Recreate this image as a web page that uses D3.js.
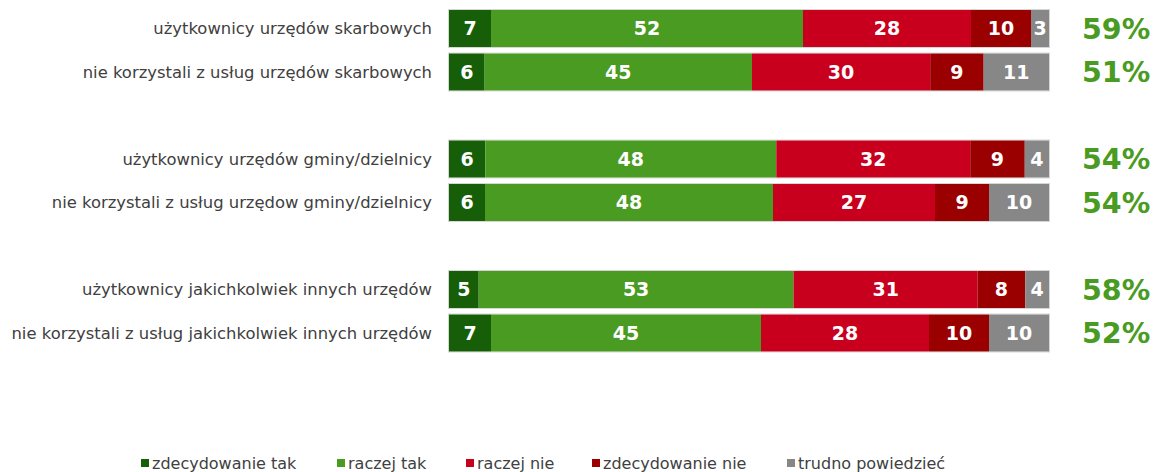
<!DOCTYPE html>
<html>
<head>
<meta charset="utf-8">
<script src="https://cdn.jsdelivr.net/npm/d3@7/dist/d3.min.js"></script>
<style>
  html, body { margin: 0; padding: 0; background: #fff; }
  svg { display: block; }
</style>
</head>
<body>
<svg id="chart" width="1153" height="472"></svg>
<script>
// Row labels; empty strings are spacer rows between the groups
const categories = [
  "użytkownicy urzędów skarbowych",
  "nie korzystali z usług urzędów skarbowych",
  "",
  "użytkownicy urzędów gminy/dzielnicy",
  "nie korzystali z usług urzędow gminy/dzielnicy",
  "",
  "użytkownicy jakichkolwiek innych urzędów",
  "nie korzystali z usług jakichkolwiek innych urzędów"
];
const seriesNames = ["zdecydowanie tak", "raczej tak", "raczej nie", "zdecydowanie nie", "trudno powiedzieć"];
const zdecydowanieTak = [7, 6, null, 6, 6, null, 5, 7];
const raczejTak       = [52, 45, null, 48, 48, null, 53, 45];
const raczejNie       = [28, 30, null, 32, 27, null, 31, 28];
const zdecydowanieNie = [10, 9, null, 9, 9, null, 8, 10];
const trudno          = [3, 11, null, 4, 10, null, 4, 10];
const totalYes        = ["59%", "51%", "", "54%", "54%", "", "58%", "52%"];

const seriesValues = [zdecydowanieTak, raczejTak, raczejNie, zdecydowanieNie, trudno];
const colors = ["#175e08", "#4a9b22", "#c8001e", "#9a0000", "#878787"];

const svg = d3.select("#chart");

const x = d3.scaleLinear().domain([0, 1]).range([449, 1049]);
const y = d3.scaleBand()
  .domain(d3.range(categories.length))
  .range([6.75, 354.75])
  .paddingInner(0.15)
  .paddingOuter(0.075);

const rows = categories.map((c, i) => ({ i, label: c, vals: seriesValues.map(s => s[i]) }))
  .filter(r => r.label !== "");

// Each row is stacked to its own total so every bar spans the full width
rows.forEach(r => {
  const total = d3.sum(r.vals);
  let acc = 0;
  r.segs = r.vals.map((v, k) => {
    const s = { k, v, x0: acc / total, x1: (acc + v) / total };
    acc += v;
    return s;
  });
});

const rowG = svg.selectAll("g.row").data(rows).join("g")
  .attr("class", "row")
  .attr("transform", d => `translate(0,${y(d.i)})`);

// thin light outline around each bar
rowG.append("rect")
  .attr("x", x(0) - 0.5)
  .attr("y", -0.5)
  .attr("width", x(1) - x(0) + 1)
  .attr("height", y.bandwidth() + 1)
  .attr("fill", "none")
  .attr("stroke", "#d6d6d6")
  .attr("stroke-width", 1);

rowG.selectAll("rect.seg").data(d => d.segs).join("rect")
  .attr("class", "seg")
  .attr("x", d => x(d.x0))
  .attr("y", 0)
  .attr("width", d => x(d.x1) - x(d.x0))
  .attr("height", y.bandwidth())
  .attr("fill", d => colors[d.k]);

rowG.selectAll("text.val").data(d => d.segs).join("text")
  .attr("class", "val")
  .attr("x", d => (x(d.x0) + x(d.x1)) / 2)
  .attr("y", y.bandwidth() / 2)
  .attr("dy", "0.36em")
  .attr("text-anchor", "middle")
  .attr("fill", "#fff")
  .attr("font-family", "'DejaVu Sans', Verdana, sans-serif")
  .attr("font-weight", "bold")
  .attr("font-size", 19)
  .text(d => d.v);

rowG.append("text")
  .attr("x", 432)
  .attr("y", y.bandwidth() / 2)
  .attr("dy", "0.36em")
  .attr("text-anchor", "end")
  .attr("fill", "#404040")
  .attr("font-family", "'DejaVu Sans', Verdana, sans-serif")
  .attr("font-size", 16.4)
  .text(d => d.label);

rowG.append("text")
  .attr("x", 1082)
  .attr("y", y.bandwidth() / 2)
  .attr("dy", "0.36em")
  .attr("fill", "#4a9b22")
  .attr("font-family", "'DejaVu Sans', Verdana, sans-serif")
  .attr("font-weight", "bold")
  .attr("font-size", 28.5)
  .text(d => totalYes[d.i]);

// Legend
const legendX = [141, 337, 466, 592, 787];
const leg = svg.selectAll("g.leg").data(seriesNames).join("g")
  .attr("class", "leg")
  .attr("transform", (d, k) => `translate(${legendX[k]},459)`);
leg.append("rect")
  .attr("width", 8).attr("height", 8)
  .attr("fill", (d, k) => colors[k]);
leg.append("text")
  .attr("x", 11)
  .attr("y", 10)
  .attr("fill", "#404040")
  .attr("font-family", "'DejaVu Sans', sans-serif")
  .attr("font-size", 16)
  .text(d => d);
</script>
</body>
</html>
